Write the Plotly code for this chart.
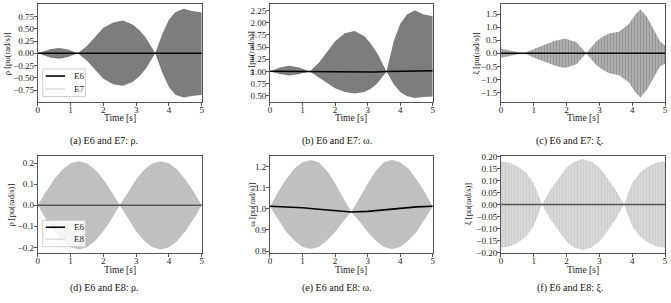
import plotly.graph_objects as go

# ---------------- data ----------------
# (a) rho, E6 vs E7 envelope
t_a = [0, 0.2, 0.4, 0.65, 0.9, 1.1, 1.22, 1.5, 1.75, 2.0, 2.3, 2.6, 2.9, 3.1, 3.3, 3.58, 3.8, 4.0, 4.2, 4.45, 4.7, 5.0]
rho_e7_up = [0, 0.05, 0.09, 0.11, 0.08, 0.03, 0, 0.15, 0.33, 0.52, 0.63, 0.67, 0.58, 0.47, 0.31, 0, 0.40, 0.69, 0.84, 0.91, 0.86, 0.83]
rho_e7_lo = [0, -0.05, -0.09, -0.11, -0.08, -0.03, 0, -0.15, -0.33, -0.52, -0.63, -0.66, -0.58, -0.47, -0.31, 0, -0.40, -0.69, -0.85, -0.90, -0.87, -0.85]
t_e6a = [0, 5]
rho_e6a = [0, 0]

# (b) omega, E6 vs E7 envelope
t_b = [0, 0.3, 0.6, 0.9, 1.22, 1.5, 1.75, 2.0, 2.3, 2.6, 2.9, 3.1, 3.3, 3.58, 3.8, 4.0, 4.2, 4.45, 4.7, 5.0]
om_e7_up = [1.0, 1.08, 1.12, 1.08, 1.0, 1.18, 1.40, 1.62, 1.78, 1.83, 1.72, 1.57, 1.37, 1.0, 1.62, 1.97, 2.16, 2.25, 2.17, 2.13]
om_e7_lo = [1.0, 0.95, 0.92, 0.95, 1.0, 0.88, 0.76, 0.66, 0.58, 0.55, 0.58, 0.65, 0.76, 1.0, 0.74, 0.58, 0.50, 0.46, 0.48, 0.49]
t_e6b = [0, 0.6, 1.22, 2.0, 2.6, 3.2, 3.6, 4.3, 5.0]
om_e6b = [1.005, 1.0, 0.995, 0.985, 0.98, 0.99, 1.0, 1.01, 1.015]

# (c) xi, E6 vs E7 envelope
t_c = [0, 0.35, 0.7, 1.0, 1.3, 1.65, 1.95, 2.3, 2.6, 2.9, 3.1, 3.3, 3.6, 3.9, 4.1, 4.25, 4.45, 4.65, 4.85, 5.0]
xi_e7_up = [0.17, 0.09, 0, 0.16, 0.32, 0.48, 0.57, 0.42, 0, 0.45, 0.63, 0.76, 0.83, 1.12, 1.50, 1.68, 1.40, 0.95, 0.45, 0.30]
xi_e7_lo = [-0.17, -0.09, 0, -0.16, -0.32, -0.48, -0.56, -0.42, 0, -0.45, -0.63, -0.76, -0.84, -1.12, -1.50, -1.69, -1.40, -0.95, -0.50, -0.40]
t_e6c = [0, 5]
xi_e6c = [0, 0]

# (d) rho, E6 vs E8 envelope
t_d = [0, 0.25, 0.5, 0.75, 1.0, 1.25, 1.5, 1.75, 2.0, 2.25, 2.5, 2.75, 3.0, 3.25, 3.5, 3.75, 4.0, 4.25, 4.5, 4.75, 5.0]
rho_e8_up = [0, 0.065, 0.123, 0.17, 0.2, 0.21, 0.2, 0.17, 0.123, 0.065, 0, 0.065, 0.123, 0.17, 0.2, 0.21, 0.2, 0.17, 0.123, 0.065, 0]
rho_e8_lo = [0, -0.065, -0.123, -0.17, -0.2, -0.21, -0.2, -0.17, -0.123, -0.065, 0, -0.065, -0.123, -0.17, -0.2, -0.21, -0.2, -0.17, -0.123, -0.065, 0]
t_e6d = [0, 5]
rho_e6d = [0, 0]

# (e) omega, E6 vs E8 envelope
t_e = [0, 0.25, 0.5, 0.75, 1.0, 1.25, 1.5, 1.75, 2.0, 2.25, 2.5, 2.75, 3.0, 3.25, 3.5, 3.75, 4.0, 4.25, 4.5, 4.75, 5.0]
om_e8_up = [1.01, 1.08, 1.14, 1.19, 1.22, 1.23, 1.22, 1.18, 1.12, 1.05, 0.985, 1.05, 1.12, 1.18, 1.22, 1.23, 1.22, 1.19, 1.14, 1.08, 1.01]
om_e8_lo = [1.01, 0.95, 0.89, 0.85, 0.82, 0.81, 0.82, 0.85, 0.89, 0.94, 0.985, 0.94, 0.89, 0.85, 0.82, 0.81, 0.82, 0.85, 0.89, 0.95, 1.01]
t_e6e = [0, 0.5, 1.0, 1.5, 2.0, 2.5, 3.0, 3.5, 4.0, 4.5, 5.0]
om_e6e = [1.012, 1.01, 1.005, 0.998, 0.99, 0.985, 0.988, 0.995, 1.003, 1.009, 1.012]

# (f) xi, E6 vs E8 envelope
t_f = [0, 0.25, 0.5, 0.75, 1.0, 1.25, 1.5, 1.75, 2.0, 2.25, 2.5, 2.75, 3.0, 3.25, 3.5, 3.75, 4.0, 4.25, 4.5, 4.75, 5.0]
xi_e8_up = [0.18, 0.175, 0.16, 0.135, 0.09, 0, 0.06, 0.11, 0.155, 0.18, 0.19, 0.18, 0.155, 0.11, 0.06, 0, 0.09, 0.135, 0.16, 0.175, 0.18]
xi_e8_lo = [-0.18, -0.175, -0.16, -0.135, -0.09, 0, -0.06, -0.11, -0.155, -0.18, -0.19, -0.18, -0.155, -0.11, -0.06, 0, -0.09, -0.135, -0.16, -0.175, -0.18]
t_e6f = [0, 5]
xi_e6f = [0, 0]

captions = ["(a) E6 and E7: ρ.", "(b) E6 and E7: ω.", "(c) E6 and E7: ξ.",
            "(d) E6 and E8: ρ.", "(e) E6 and E8: ω.", "(f) E6 and E8: ξ."]
ytitles = ["ρ [pu(rad/s)]", "ω [pu(rad/s)]", "ξ [pu(rad/s)]",
           "ρ [pu(rad/s)]", "ω [pu(rad/s)]", "ξ [pu(rad/s)]"]
legend_a = ["E6", "E7"]
legend_d = ["E6", "E8"]

# ---------------- layout geometry ----------------
W, H = 671, 303
FONT = "Liberation Serif"
panels = [
    dict(x0=36, x1=201.3, y0=0.5, y1=100.5, yr=[-0.99, 0.995], dt=0.25, fmt=".2f", ytx=5, cx=103),
    dict(x0=270, x1=434, y0=0.5, y1=100.5, yr=[0.38, 2.37], dt=0.25, fmt=".2f", ytx=251, cx=338),
    dict(x0=502.7, x1=668, y0=0.5, y1=100.5, yr=[-1.86, 1.87], dt=0.5, fmt=".1f", ytx=478, cx=572),
    dict(x0=36, x1=201.3, y0=156, y1=256, yr=[-0.228, 0.235], dt=0.1, fmt=".1f", ytx=9, cx=103),
    dict(x0=270, x1=434, y0=156, y1=256, yr=[0.79, 1.25], dt=0.1, fmt=".1f", ytx=251, cx=338),
    dict(x0=502.7, x1=668, y0=156, y1=256, yr=[-0.203, 0.203], dt=0.05, fmt=".2f", ytx=469, cx=572),
]
ytick0 = [-0.75, 0.5, -1.5, -0.2, 0.8, -0.2]

series = [
    (t_a, rho_e7_up, rho_e7_lo, t_e6a, rho_e6a),
    (t_b, om_e7_up, om_e7_lo, t_e6b, om_e6b),
    (t_c, xi_e7_up, xi_e7_lo, t_e6c, xi_e6c),
    (t_d, rho_e8_up, rho_e8_lo, t_e6d, rho_e6d),
    (t_e, om_e8_up, om_e8_lo, t_e6e, om_e6e),
    (t_f, xi_e8_up, xi_e8_lo, t_e6f, xi_e6f),
]

fill_styles = [
    dict(fillcolor="#7d7d7d"),
    dict(fillcolor="#7d7d7d"),
    dict(fillcolor="#949494", fillpattern=dict(shape="|", fgcolor="#6e6e6e", bgcolor="#bababa", size=3, solidity=0.55)),
    dict(fillcolor="#c0c0c0"),
    dict(fillcolor="#c0c0c0"),
    dict(fillcolor="#cccccc", fillpattern=dict(shape="|", fgcolor="#bbbbbb", bgcolor="#dcdcdc", size=3, solidity=0.5)),
]
e6_colors = ["#000000", "#000000", "#000000", "#555555", "#000000", "#555555"]

fig = go.Figure()
annotations = []
shapes = []
layout = {}
for i, (p, s) in enumerate(zip(panels, series)):
    n = "" if i == 0 else str(i + 1)
    xa, ya = "x" + n, "y" + n
    t, up, lo, te6, ve6 = s
    fig.add_trace(go.Scatter(x=t, y=lo, mode="lines", line=dict(width=0, color="rgba(0,0,0,0)"),
                             showlegend=False, hoverinfo="skip", xaxis=xa, yaxis=ya))
    fig.add_trace(go.Scatter(x=t, y=up, mode="lines", line=dict(width=0, color="rgba(0,0,0,0)"),
                             fill="tonexty", showlegend=False, xaxis=xa, yaxis=ya, **fill_styles[i]))
    fig.add_trace(go.Scatter(x=te6, y=ve6, mode="lines", line=dict(width=1.6, color=e6_colors[i]),
                             showlegend=False, xaxis=xa, yaxis=ya))
    common = dict(showline=True, mirror=True, linecolor="#555555", linewidth=1, ticks="outside",
                  ticklen=3, tickcolor="#555555", showgrid=False, zeroline=False,
                  tickfont=dict(family=FONT, size=9, color="#222222"))
    layout["xaxis" + n] = dict(domain=[p["x0"] / W, p["x1"] / W], range=[0, 5], tick0=0, dtick=1,
                               anchor=ya, ticklabelstandoff=-4, **common)
    layout["yaxis" + n] = dict(domain=[1 - p["y1"] / H, 1 - p["y0"] / H], range=p["yr"],
                               tick0=ytick0[i], dtick=p["dt"], tickformat=p["fmt"], anchor=xa,
                               ticklabelstandoff=-2, **common)
    xc = (p["x0"] + p["x1"]) / 2 / W
    annotations.append(dict(text="Time [s]", x=xc, y=1 - (p["y1"] + 17) / H, xref="paper", yref="paper",
                            showarrow=False, font=dict(family=FONT, size=9.5, color="#222222"),
                            xanchor="center", yanchor="middle"))
    annotations.append(dict(text=ytitles[i], x=p["ytx"] / W, y=1 - (p["y0"] + p["y1"]) / 2 / H,
                            xref="paper", yref="paper", showarrow=False, textangle=-90,
                            font=dict(family=FONT, size=8.5, color="#222222"),
                            xanchor="center", yanchor="middle"))
    annotations.append(dict(text=captions[i], x=p["cx"] / W, y=1 - (141 if i < 3 else 292) / H,
                            xref="paper", yref="paper", showarrow=False,
                            font=dict(family=FONT, size=10, color="#111111"),
                            xanchor="center", yanchor="middle"))

# legends drawn as boxes (matplotlib style), in paper coordinates
def add_legend(names, box_top, box_bot, line_ys):
    px = lambda v: v / W
    py = lambda v: 1 - v / H
    shapes.append(dict(type="rect", xref="paper", yref="paper", x0=px(41), x1=px(84),
                       y0=py(box_bot), y1=py(box_top), line=dict(color="#cfcfcf", width=1),
                       fillcolor="rgba(255,255,255,0.85)", layer="above"))
    colors = ["#000000", "#dcdcdc"]
    for name, ly, c in zip(names, line_ys, colors):
        shapes.append(dict(type="line", xref="paper", yref="paper", x0=px(44), x1=px(63.5),
                           y0=py(ly), y1=py(ly), line=dict(color=c, width=1.6), layer="above"))
        annotations.append(dict(text=name, x=px(70.5), y=py(ly), xref="paper", yref="paper",
                                showarrow=False, xanchor="left", yanchor="middle",
                                font=dict(family=FONT, size=9, color="#222222")))

add_legend(legend_a, 66.7, 95, [74, 87.3])
add_legend(legend_d, 222.3, 249.3, [229.3, 241.7])

fig.update_layout(
    width=W, height=H, margin=dict(l=0, r=0, t=0, b=0),
    paper_bgcolor="white", plot_bgcolor="white", showlegend=False,
    annotations=annotations, shapes=shapes, **layout,
)
fig.write_html("out.html", config={"displayModeBar": False},
               post_script="document.body.style.margin='0';document.body.style.padding='0';")
